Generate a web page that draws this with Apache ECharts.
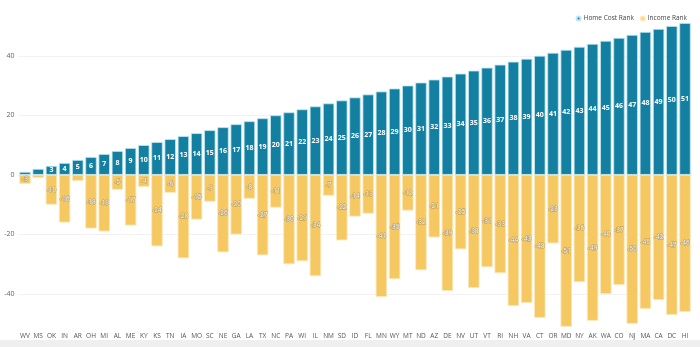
<!DOCTYPE html>
<html>
<head>
<meta charset="utf-8">
<script src="https://cdn.jsdelivr.net/npm/echarts@6/dist/echarts.min.js"></script>
<style>
html,body{margin:0;padding:0;background:#fff;}
#c{width:700px;height:347px;}
</style>
</head>
<body>
<div id="c"></div>
<script>
const states = ["WV","MS","OK","IN","AR","OH","MI","AL","ME","KY","KS","TN","IA","MO","SC","NE","GA","LA","TX","NC","PA","WI","IL","NM","SD","ID","FL","MN","WY","MT","ND","AZ","DE","NV","UT","VT","RI","NH","VA","CT","OR","MD","NY","AK","WA","CO","NJ","MA","CA","DC","HI"];
const homeCostRank = [1,2,3,4,5,6,7,8,9,10,11,12,13,14,15,16,17,18,19,20,21,22,23,24,25,26,27,28,29,30,31,32,33,34,35,36,37,38,39,40,41,42,43,44,45,46,47,48,49,50,51];
const incomeRank = [-3,-1,-10,-16,-2,-18,-19,-5,-17,-4,-24,-6,-28,-15,-9,-26,-20,-8,-27,-11,-30,-29,-34,-7,-22,-14,-13,-41,-35,-12,-32,-21,-39,-25,-38,-31,-33,-44,-43,-48,-23,-51,-36,-49,-40,-37,-50,-45,-42,-47,-46];
const yTicks = [-40,-20,0,20,40];

const smallHide = p => (Math.abs(p.value) < 3 ? '' : String(p.value));

const chart = echarts.init(document.getElementById('c'), null, {renderer:'canvas'});
chart.setOption({
  animation:false,
  backgroundColor:'#fff',
  graphic:[{type:'rect',left:0,bottom:0,shape:{width:700,height:7},style:{fill:'#efefef'},silent:true}],
  legend:{
    right:8, top:10, itemWidth:4, itemHeight:4, itemGap:6,
    icon:'circle',
    textStyle:{fontSize:6.5, color:'#444', fontFamily:'Open Sans', padding:[0,0,0,-2]},
    data:['Home Cost Rank','Income Rank']
  },
  grid:{left:18.4, right:8.4, top:23, bottom:20.3},
  xAxis:{
    type:'category', data:states,
    axisLine:{show:false}, axisTick:{show:false},
    axisLabel:{fontSize:6.5, color:'#555', fontFamily:'Open Sans', interval:0, margin:6}
  },
  yAxis:{
    type:'value', min:-51, max:51,
    axisLine:{show:false}, axisTick:{show:false},
    axisLabel:{fontSize:7, color:'#666', fontFamily:'Open Sans', margin:4, customValues:yTicks},
    splitLine:{show:false}
  },
  series:[
    {
      name:'Home Cost Rank', type:'bar', stack:'s', data:homeCostRank,
      barCategoryGap:'14%',
      itemStyle:{color:'#1380a1', borderColor:'#bfe6f3', borderWidth:0.8},
      label:{show:true, position:'inside', color:'#fff', fontSize:7, fontWeight:'bold', fontFamily:'Open Sans', formatter:smallHide},
      markLine:{
        silent:true, symbol:'none', label:{show:false},
        lineStyle:{color:'#f2f2f2', width:1, type:'solid'},
        z:0,
        data:yTicks.map(v=>({yAxis:v}))
      },
      z:3
    },
    {
      name:'Income Rank', type:'bar', stack:'s', data:incomeRank,
      itemStyle:{color:'#f6c862', borderColor:'#fbe7b7', borderWidth:0.8},
      label:{show:true, position:'inside', color:'#fff', fontSize:6.5, fontFamily:'Open Sans', textBorderColor:'rgba(140,125,95,0.7)', textBorderWidth:1, formatter:smallHide},
      z:3
    }
  ]
});
</script>
</body>
</html>
